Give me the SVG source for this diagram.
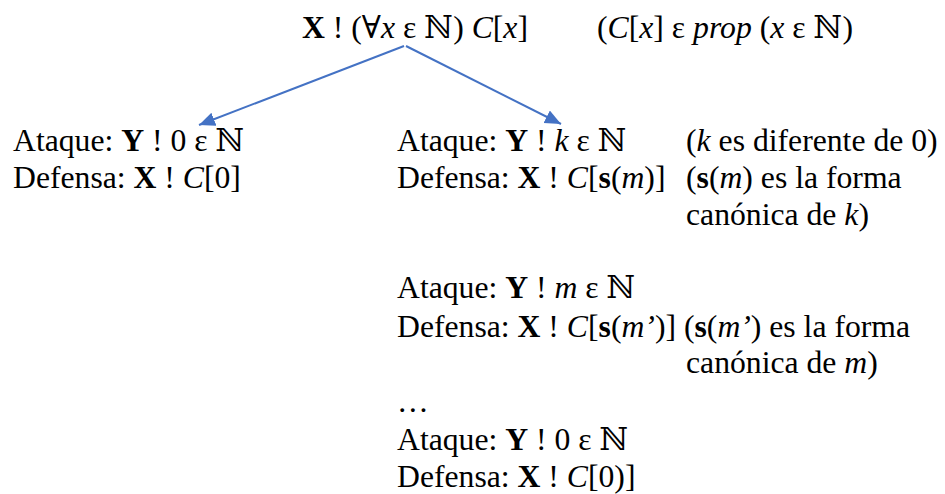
<svg xmlns="http://www.w3.org/2000/svg" width="945" height="494" viewBox="0 0 945 494">
<defs>
<style>
text{font-family:"Liberation Serif","DejaVu Serif",serif;font-size:31.7px;fill:#000;}
.b{font-weight:bold;}
.i{font-style:italic;}
.conn{stroke:#4472C4;stroke-width:2;fill:none;}
</style>
<marker id="ah" markerUnits="userSpaceOnUse" markerWidth="18" markerHeight="16" refX="16" refY="7" orient="auto">
<path d="M0,0 L16,7 L0,14 Z" fill="#4472C4"/>
</marker>
</defs>
<rect width="945" height="494" fill="#fff"/>
<g id="connectors">
<line class="conn" x1="404" y1="46" x2="199" y2="125" marker-end="url(#ah)"/>
<line class="conn" x1="406" y1="46" x2="561" y2="124" marker-end="url(#ah)"/>
</g>
<g id="root">
<text x="302" y="38"><tspan class="b">X</tspan> ! (∀<tspan class="i">x</tspan> ε ℕ) <tspan class="i">C</tspan>[<tspan class="i">x</tspan>]</text>
<text x="597" y="38">(<tspan class="i">C</tspan>[<tspan class="i">x</tspan>] ε <tspan class="i">prop</tspan> (<tspan class="i">x</tspan> ε ℕ)</text>
</g>
<g id="left">
<text x="13" y="151">Ataque: <tspan class="b">Y</tspan> ! 0 ε ℕ</text>
<text x="13" y="188">Defensa: <tspan class="b">X</tspan> ! <tspan class="i">C</tspan>[0]</text>
</g>
<g id="right">
<text x="397" y="151">Ataque: <tspan class="b">Y</tspan> ! <tspan class="i">k</tspan> ε ℕ</text>
<text x="686" y="151">(<tspan class="i">k</tspan> es diferente de 0)</text>
<text x="397" y="188">Defensa: <tspan class="b">X</tspan> ! <tspan class="i">C</tspan>[<tspan class="b">s</tspan>(<tspan class="i">m</tspan>)]</text>
<text x="686" y="188">(<tspan class="b">s</tspan>(<tspan class="i">m</tspan>) es la forma</text>
<text x="686" y="225">canónica de <tspan class="i">k</tspan>)</text>
<text x="397" y="298">Ataque: <tspan class="b">Y</tspan> ! <tspan class="i">m</tspan> ε ℕ</text>
<text x="397" y="337">Defensa: <tspan class="b">X</tspan> ! <tspan class="i">C</tspan>[<tspan class="b">s</tspan>(<tspan class="i">m’</tspan>)] (<tspan class="b">s</tspan>(<tspan class="i">m’</tspan>) es la forma</text>
<text x="686" y="373">canónica de <tspan class="i">m</tspan>)</text>
<text x="397" y="412">…</text>
<text x="397" y="450">Ataque: <tspan class="b">Y</tspan> ! 0 ε ℕ</text>
<text x="397" y="487">Defensa: <tspan class="b">X</tspan> ! <tspan class="i">C</tspan>[0)]</text>
</g>
</svg>
